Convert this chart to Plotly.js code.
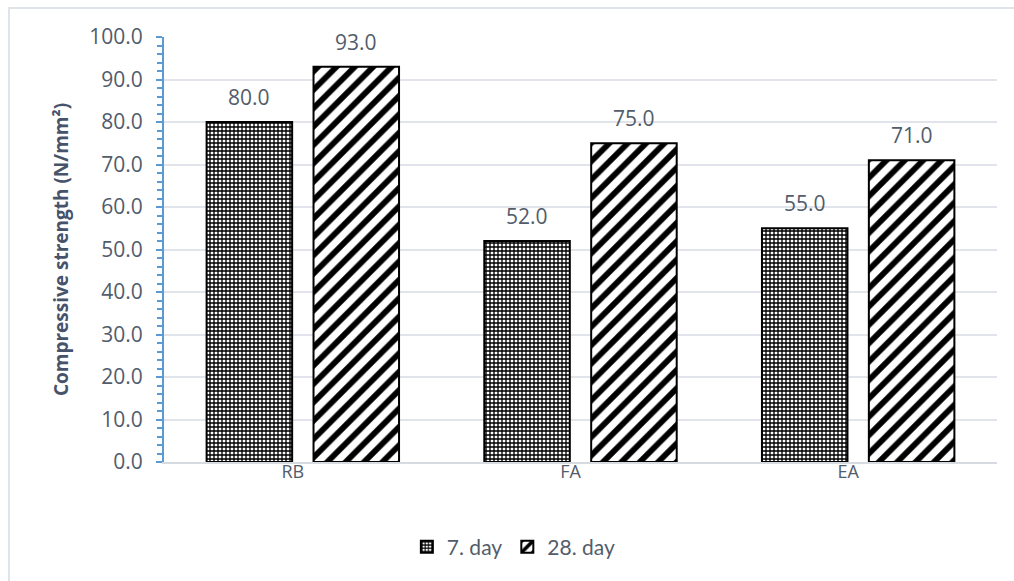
<!DOCTYPE html>
<html>
<head>
<meta charset="utf-8">
<script src="https://cdn.plot.ly/plotly-3.0.1.min.js"></script>
<style>
  html, body { margin: 0; padding: 0; background: #fff; }
  #wrap { position: relative; width: 1014px; height: 581px; overflow: hidden; }
  #frame { position: absolute; left: 8px; top: 7px; width: 1020px; height: 590px;
           border-left: 2px solid #dfe3ea; border-top: 2px solid #dfe3ea; box-sizing: border-box; }
  #chart { position: absolute; left: 0; top: 0; width: 1014px; height: 581px; }
</style>
</head>
<body>
<div id="wrap">
  <div id="frame"></div>
  <div id="chart"></div>
</div>
<script>
// Compressive strength of the three mixes at 7 and 28 days
const categories = ['RB', 'FA', 'EA'];
const seriesNames = ['7. day', '28. day'];
const day7 = [80.0, 52.0, 55.0];
const day28 = [93.0, 75.0, 71.0];
const yTickVals = [0, 10, 20, 30, 40, 50, 60, 70, 80, 90, 100];

const textColor = '#525c6b';
const axisBlue = '#5b9bd5';
const gridColor = '#e1e4ea';

const W = 1014, H = 581;
const margin = { l: 164, r: 17, t: 37, b: 119 };
const bargap = 0.23, bargroupgap = 0.2;

const traces = [
  {
    type: 'bar', name: seriesNames[0], x: categories, y: day7,
    marker: {
      color: '#ffffff',
      line: { color: '#000000', width: 2 },
      pattern: { shape: '+', fgcolor: '#000000', bgcolor: '#ffffff', size: 4, solidity: 0.55 }
    },
    hoverinfo: 'x+y'
  },
  {
    type: 'bar', name: seriesNames[1], x: categories, y: day28,
    marker: {
      color: '#ffffff',
      line: { color: '#000000', width: 2 },
      pattern: { shape: '/', fgcolor: '#000000', bgcolor: '#ffffff', size: 13, solidity: 0.45 }
    },
    hoverinfo: 'x+y'
  }
];

// Value labels above each bar, offset sideways to sit over their bar in the group
const catWidth = (W - margin.l - margin.r) / categories.length;
const slot = (1 - bargap) * catWidth / 2;
const annotations = [];
[day7, day28].forEach((vals, si) => {
  const shift = (si === 0 ? -1 : 1) * slot / 2;
  vals.forEach((v, i) => {
    annotations.push({
      x: categories[i], y: v, xref: 'x', yref: 'y',
      text: v.toFixed(1), showarrow: false,
      xshift: shift, yshift: 25, yanchor: 'middle',
      font: { family: 'Open Sans, sans-serif', size: 21, color: textColor }
    });
  });
});

const layout = {
  width: W, height: H,
  margin: margin,
  paper_bgcolor: 'rgba(0,0,0,0)',
  plot_bgcolor: '#ffffff',
  barmode: 'group',
  bargap: bargap,
  bargroupgap: bargroupgap,
  showlegend: true,
  legend: {
    orientation: 'h', x: 0.42, xanchor: 'center', y: -0.2, yanchor: 'middle',
    font: { family: 'Lato, sans-serif', size: 21, color: textColor },
    itemwidth: 30, traceorder: 'normal'
  },
  xaxis: {
    type: 'category',
    showline: true, linecolor: '#d6dae1', linewidth: 2,
    ticks: '', showgrid: false,
    tickfont: { family: 'Open Sans, sans-serif', size: 18, color: textColor },
    ticklabelstandoff: -8,
    ticklabelshift: -10
  },
  yaxis: {
    range: [0, 100],
    tickvals: yTickVals,
    tickformat: '.1f',
    showline: true, linecolor: axisBlue, linewidth: 2,
    ticks: 'outside', ticklen: 6, tickcolor: axisBlue, tickwidth: 2,
    minor: { dtick: 2, ticks: 'outside', ticklen: 5, tickcolor: axisBlue, tickwidth: 2, showgrid: false },
    showgrid: true, gridcolor: gridColor, gridwidth: 2,
    zeroline: false,
    tickfont: { family: 'Open Sans, sans-serif', size: 21, color: textColor },
    ticklabelstandoff: 9,
    title: {
      text: 'Compressive strength (N/mm²)',
      font: { family: 'Open Sans, sans-serif', size: 19, color: '#46536a', weight: 'bold' },
      standoff: 16
    }
  },
  annotations: annotations
};

Plotly.newPlot('chart', traces, layout, { displayModeBar: false, staticPlot: true });
</script>
</body>
</html>
